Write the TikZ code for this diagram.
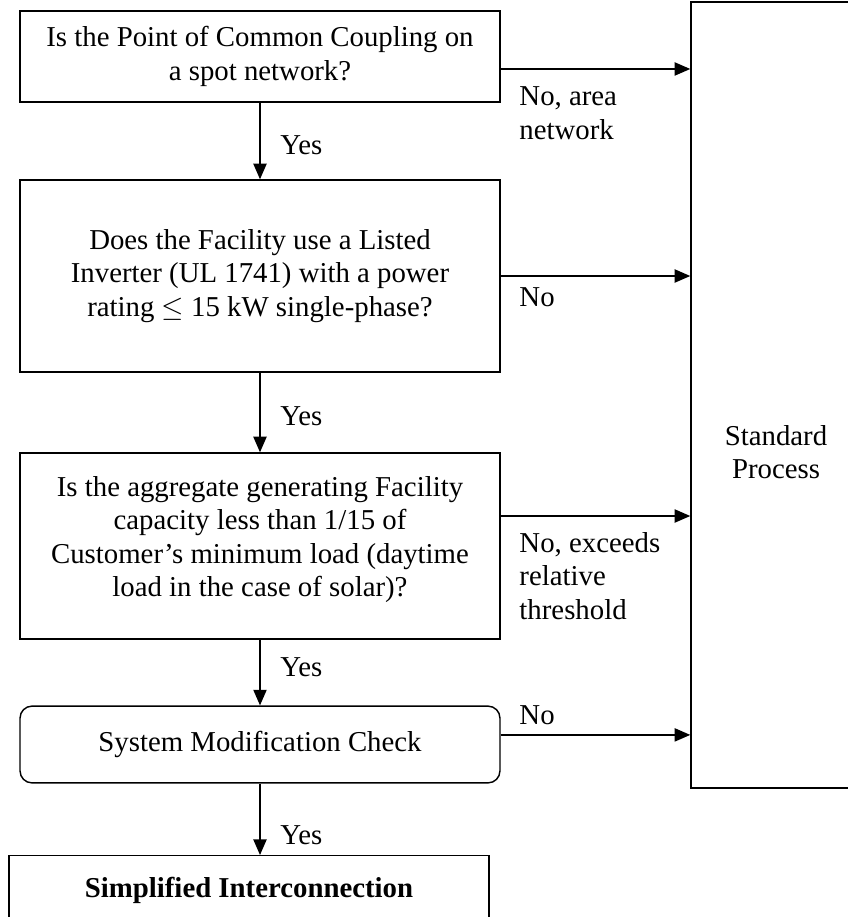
\documentclass[tikz,border=0pt]{standalone}
\usepackage{fontspec}
\setmainfont{Liberation Serif}
\usetikzlibrary{arrows.meta}

\tikzset{
	qbox/.style={rectangle,draw=black,line width=0.6pt,minimum width=200pt,inner sep=0pt,align=center},
	arr/.style={line width=0.6pt,-{Triangle[length=6.5pt,width=5.5pt]}},
	lbl/.style={inner sep=0pt,align=left,anchor=west},
}

\begin{document}
\begin{tikzpicture}[x=0.4167pt,y=-0.4167pt,font=\fontsize{12pt}{14pt}\selectfont]
	\path[use as bounding box,clip] (0,0) rectangle (848,917);

	\node[qbox,minimum height=37.9pt,name=q1] at (260,56.5) {Is the Point of Common Coupling on\\a spot network?};
	\node[qbox,minimum height=80pt,name=q2] at (260,276) {Does the Facility use a Listed\\Inverter (UL 1741) with a power\\rating $\leq$ 15 kW single-phase?};
	\node[qbox,minimum height=77.5pt,name=q3] at (260,546) {Is the aggregate generating Facility\\capacity less than 1/15 of\\Customer’s minimum load (daytime\\load in the case of solar)?\\[-6pt]};
	\node[qbox,minimum height=32pt,rounded corners=5pt,name=chk] at (260,744.5) {System Modification Check};
	\node[qbox,minimum height=29pt,anchor=north,name=simple] at (249,855) {\textbf{Simplified Interconnection}};
	\node[qbox,minimum width=74.6pt,minimum height=327.5pt,name=std] at (780.5,395) {};
	\node[inner sep=0pt,align=center,name=stdtext] at (776,452) {Standard\\Process};

	% yes branches
	\path[arr] (q1) edge (q2)
		(q2) edge (q3)
		(q3) edge (chk)
		(chk.south) edge (chk.south |- simple.north);

	% no branches
	\path[arr] ([yshift=-5.2pt]q1.east) edge ([yshift=-5.2pt]q1.east -| std.west)
		(q2.east) edge (q2.east -| std.west)
		([yshift=12.5pt]q3.east) edge ([yshift=12.5pt]q3.east -| std.west)
		([yshift=4pt]chk.east) edge ([yshift=4pt]chk.east -| std.west);

	\node[lbl,name=y1] at (280,145) {Yes};
	\node[lbl,name=y2] at (280,416) {Yes};
	\node[lbl,name=y3] at (280,667) {Yes};
	\node[lbl,name=y4] at (280,835) {Yes};
	\node[lbl,name=n1] at (519,113.5) {No, area\\network};
	\node[lbl,name=n2] at (519,297) {No};
	\node[lbl,name=n3] at (519,576) {No, exceeds\\relative\\threshold};
	\node[lbl,name=n4] at (519,715) {No};
\end{tikzpicture}
\end{document}
